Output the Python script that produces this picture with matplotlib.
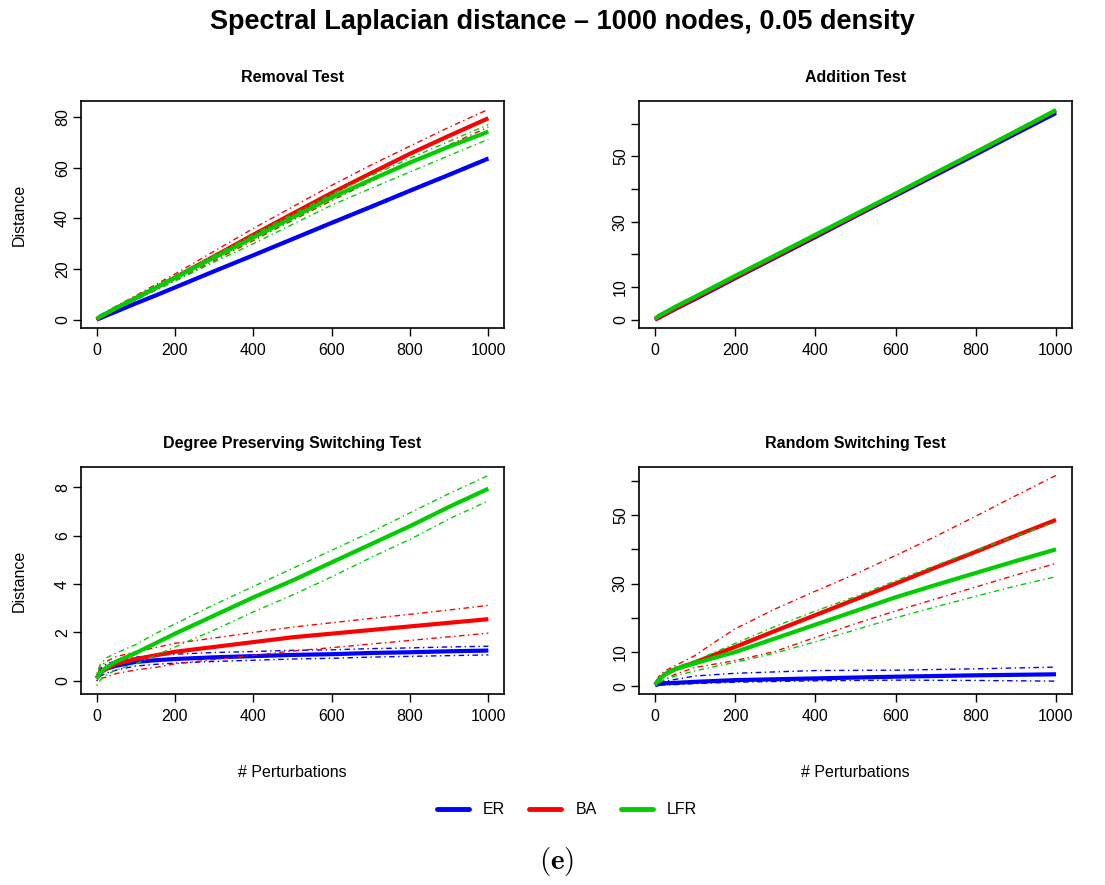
# Spectral Laplacian distance figure: four perturbation tests, three
# network models (ER / BA / LFR), mean curve plus dot-dash bounds.

import matplotlib
matplotlib.use("Agg")
import matplotlib.pyplot as plt
from matplotlib.lines import Line2D

# perturbation counts shared by every curve
X = [0, 10, 25, 50, 100, 150, 200, 300, 400, 500, 600, 700, 800, 900, 1000]

# ---- Removal Test ----
REM_ER = [0, 0.6, 1.6, 3.2, 6.4, 9.5, 12.7, 19.1, 25.4, 31.8, 38.2, 44.5, 50.9, 57.2, 63.6]
REM_ER_LO = [0, 0.5, 1.4, 3.0, 6.1, 9.2, 12.4, 18.7, 25.0, 31.4, 37.7, 44.0, 50.4, 56.7, 63.1]
REM_ER_HI = [0, 0.7, 1.8, 3.4, 6.7, 9.8, 13.0, 19.5, 25.8, 32.2, 38.7, 45.0, 51.4, 57.7, 64.1]
REM_BA = [0, 1.2, 2.4, 4.5, 8.5, 12.5, 16.6, 25.0, 33.5, 41.8, 50.0, 57.8, 65.5, 72.6, 79.5]
REM_BA_LO = [0, 0.9, 2.0, 4.0, 7.8, 11.6, 15.4, 23.3, 31.2, 39.2, 47.0, 54.5, 62.0, 69.0, 76.0]
REM_BA_HI = [0.5, 1.8, 3.0, 5.3, 9.5, 13.8, 18.0, 27.0, 36.0, 44.5, 53.0, 61.0, 68.5, 76.0, 83.0]
REM_LFR = [0.3, 1.3, 2.5, 4.6, 8.5, 12.5, 16.5, 24.5, 32.4, 40.3, 48.2, 55.2, 62.0, 68.3, 74.2]
REM_LFR_LO = [0, 0.8, 2.0, 4.0, 7.8, 11.5, 15.2, 22.7, 30.0, 37.6, 45.2, 51.8, 58.3, 64.8, 71.2]
REM_LFR_HI = [0.6, 1.9, 3.1, 5.3, 9.2, 13.3, 17.3, 25.4, 33.5, 41.6, 49.6, 56.8, 63.7, 70.4, 77.0]

# ---- Addition Test ----
ADD_ER = [0, 0.6, 1.6, 3.2, 6.3, 9.5, 12.7, 19.0, 25.3, 31.7, 38.0, 44.3, 50.6, 57.0, 63.3]
ADD_ER_LO = [0, 0.5, 1.5, 3.1, 6.2, 9.4, 12.6, 18.9, 25.2, 31.6, 37.9, 44.2, 50.5, 56.9, 63.2]
ADD_ER_HI = [0, 0.7, 1.7, 3.3, 6.4, 9.6, 12.8, 19.1, 25.4, 31.8, 38.1, 44.4, 50.7, 57.1, 63.4]
ADD_BA = [0, 0.7, 1.7, 3.4, 6.6, 9.8, 13.0, 19.3, 25.7, 32.0, 38.4, 44.8, 51.2, 57.6, 64.0]
ADD_BA_LO = [0, 0.6, 1.6, 3.3, 6.5, 9.7, 12.9, 19.2, 25.6, 31.9, 38.3, 44.7, 51.1, 57.5, 63.9]
ADD_BA_HI = [0, 0.8, 1.8, 3.5, 6.7, 9.9, 13.1, 19.4, 25.8, 32.1, 38.5, 44.9, 51.3, 57.7, 64.1]
ADD_LFR = [0.3, 1.2, 2.2, 3.9, 7.0, 10.2, 13.4, 19.7, 26.0, 32.3, 38.6, 45.0, 51.3, 57.7, 64.2]
ADD_LFR_LO = [0.1, 1.0, 2.0, 3.7, 6.8, 10.0, 13.2, 19.5, 25.8, 32.1, 38.4, 44.8, 51.1, 57.5, 64.0]
ADD_LFR_HI = [0.5, 1.4, 2.4, 4.1, 7.2, 10.4, 13.6, 19.9, 26.2, 32.5, 38.8, 45.2, 51.5, 57.9, 64.4]

# ---- Degree Preserving Switching Test ----
DPS_ER = [0.1, 0.35, 0.5, 0.62, 0.78, 0.85, 0.9, 0.97, 1.02, 1.07, 1.1, 1.15, 1.18, 1.22, 1.25]
DPS_ER_LO = [0.0, 0.2, 0.32, 0.44, 0.61, 0.68, 0.73, 0.8, 0.85, 0.9, 0.93, 0.98, 1.01, 1.04, 1.07]
DPS_ER_HI = [0.2, 0.5, 0.7, 0.82, 0.98, 1.05, 1.1, 1.17, 1.21, 1.26, 1.28, 1.33, 1.36, 1.4, 1.43]
DPS_BA = [0.1, 0.35, 0.5, 0.7, 0.9, 1.05, 1.2, 1.4, 1.6, 1.8, 1.95, 2.1, 2.25, 2.4, 2.55]
DPS_BA_LO = [0.0, 0.1, 0.15, 0.3, 0.45, 0.55, 0.7, 0.88, 1.05, 1.23, 1.37, 1.52, 1.67, 1.82, 1.97]
DPS_BA_HI = [0.2, 0.6, 0.8, 1.0, 1.2, 1.37, 1.55, 1.77, 2.0, 2.22, 2.4, 2.58, 2.75, 2.93, 3.12]
DPS_LFR = [0.1, 0.35, 0.55, 0.8, 1.15, 1.55, 1.95, 2.7, 3.45, 4.15, 4.9, 5.65, 6.4, 7.2, 7.95]
DPS_LFR_LO = [-0.2, 0.05, 0.25, 0.45, 0.7, 1.05, 1.4, 2.1, 2.85, 3.55, 4.3, 5.1, 5.85, 6.7, 7.45]
DPS_LFR_HI = [0.3, 0.7, 0.95, 1.15, 1.5, 1.95, 2.35, 3.15, 3.9, 4.65, 5.4, 6.15, 6.95, 7.75, 8.5]

# ---- Random Switching Test ----
RS_ER = [0.3, 0.7, 0.9, 1.0, 1.3, 1.55, 1.8, 2.05, 2.3, 2.55, 2.8, 3.0, 3.2, 3.35, 3.5]
RS_ER_LO = [0.2, 0.3, 0.4, 0.5, 0.8, 1.0, 1.2, 1.4, 1.6, 1.7, 1.8, 1.75, 1.7, 1.6, 1.5]
RS_ER_HI = [0.3, 1.0, 1.5, 2.0, 3.0, 3.4, 3.8, 4.2, 4.6, 4.65, 4.7, 4.9, 5.1, 5.35, 5.6]
RS_BA = [0.5, 2.0, 3.5, 5.0, 7.0, 9.3, 11.5, 16.2, 20.8, 25.4, 30.0, 34.7, 39.3, 44.0, 48.6]
RS_BA_LO = [0.3, 1.0, 2.0, 3.5, 5.5, 6.5, 7.5, 10.2, 14.3, 18.3, 22.0, 25.5, 29.0, 32.5, 35.9]
RS_BA_HI = [0.5, 3.0, 4.5, 6.0, 9.0, 13.0, 16.8, 22.6, 27.8, 32.8, 38.2, 43.8, 49.7, 55.7, 61.6]
RS_LFR = [0.5, 2.0, 3.5, 5.0, 6.7, 8.4, 10.0, 14.0, 18.0, 22.0, 26.0, 29.6, 33.1, 36.6, 40.0]
RS_LFR_LO = [0.3, 1.0, 2.0, 3.0, 4.5, 5.8, 7.0, 9.7, 13.0, 16.5, 20.0, 23.2, 26.3, 29.3, 32.0]
RS_LFR_HI = [0.5, 2.5, 4.0, 5.5, 7.5, 10.0, 12.5, 17.5, 22.0, 26.2, 30.8, 35.3, 39.7, 43.9, 48.0]

MODELS = ["ER", "BA", "LFR"]
COLORS = {"ER": "#0000FF", "BA": "#FF0000", "LFR": "#00CD00"}

PANELS = [
    ("Removal Test", [(REM_ER, REM_ER_LO, REM_ER_HI), (REM_BA, REM_BA_LO, REM_BA_HI),
                      (REM_LFR, REM_LFR_LO, REM_LFR_HI)],
     [0, 20, 40, 60, 80], ["0", "20", "40", "60", "80"]),
    ("Addition Test", [(ADD_ER, ADD_ER_LO, ADD_ER_HI), (ADD_BA, ADD_BA_LO, ADD_BA_HI),
                       (ADD_LFR, ADD_LFR_LO, ADD_LFR_HI)],
     [0, 10, 20, 30, 40, 50, 60], ["0", "10", "", "30", "", "50", ""]),
    ("Degree Preserving Switching Test",
     [(DPS_ER, DPS_ER_LO, DPS_ER_HI), (DPS_BA, DPS_BA_LO, DPS_BA_HI),
      (DPS_LFR, DPS_LFR_LO, DPS_LFR_HI)],
     [0, 2, 4, 6, 8], ["0", "2", "4", "6", "8"]),
    ("Random Switching Test", [(RS_ER, RS_ER_LO, RS_ER_HI), (RS_BA, RS_BA_LO, RS_BA_HI),
                               (RS_LFR, RS_LFR_LO, RS_LFR_HI)],
     [0, 10, 20, 30, 40, 50, 60], ["0", "10", "", "30", "", "50", ""]),
]

W, H = 1105, 885
# axes boxes in pixels: left, top, right, bottom
BOXES = [(81, 101, 504, 328), (639, 101, 1072, 328),
         (81, 467, 504, 694), (639, 467, 1072, 694)]

SANS = ["Liberation Sans", "DejaVu Sans"]


def main():
    plt.rcParams["font.family"] = SANS
    plt.rcParams["mathtext.fontset"] = "cm"

    fig = plt.figure(figsize=(W / 100, H / 100), dpi=100)
    fig.patch.set_facecolor("white")

    for i, ((title, series, yticks, ylabels), box) in enumerate(zip(PANELS, BOXES)):
        l, t, r, b = box
        ax = fig.add_axes([l / W, 1 - b / H, (r - l) / W, (b - t) / H])

        for name, (mean, lo, hi) in zip(MODELS, series):
            c = COLORS[name]
            ax.plot(X, mean, color=c, lw=3.0, solid_capstyle="butt")
            for band in (lo, hi):
                ax.plot(X, band, color=c, lw=1.0, dashes=(1.0, 2.5, 4.0, 2.5))

        # R-style 4% padding of the data range
        allv = [v for s in series for arr in s for v in arr]
        ymin, ymax = min(allv), max(allv)
        pad = 0.04 * (ymax - ymin)
        ax.set_ylim(ymin - pad, ymax + pad)
        ax.set_xlim(-40, 1040)

        ax.set_xticks([0, 200, 400, 600, 800, 1000])
        ax.set_yticks(yticks)
        ax.set_yticklabels(ylabels, rotation=90, va="center")
        ax.tick_params(direction="out", length=6, width=1, labelsize=11.5)
        ax.tick_params(axis="y", pad=2)
        ax.tick_params(axis="x", pad=5)
        for s in ax.spines.values():
            s.set_linewidth(1.2)

        ax.set_title(title, fontsize=11.5, fontweight="bold", pad=14)
        if i in (0, 2):
            ax.set_ylabel("Distance", fontsize=11.5, labelpad=20)
        if i in (2, 3):
            ax.set_xlabel("# Perturbations", fontsize=11.5, labelpad=29)

    fig.text(562 / W, 1 - 22 / H, "Spectral Laplacian distance \u2013 1000 nodes, 0.05 density",
             ha="center", va="center", fontsize=19.5, fontweight="bold")

    handles = [Line2D([0], [0], color=COLORS[m], lw=3.5, solid_capstyle="round")
               for m in MODELS]
    fig.legend(handles, MODELS, loc="center", ncol=3, frameon=False,
               bbox_to_anchor=(567 / W, 1 - 810 / H), fontsize=11.5,
               handlelength=2.0, columnspacing=1.5, handletextpad=0.9)

    fig.text(557 / W, 1 - 862 / H, r"$\mathbf{(e)}$", ha="center", va="center", fontsize=21)

    fig.savefig("out.png", dpi=100, facecolor="white")


if __name__ == "__main__":
    main()
